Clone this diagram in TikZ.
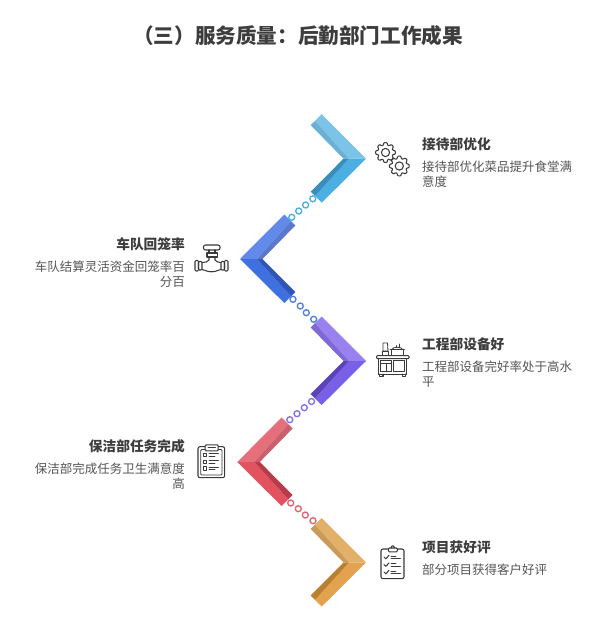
\documentclass[tikz,border=0pt]{standalone}
\usepackage{fontspec}
\setmainfont{Noto Sans CJK SC}
\definecolor{txtdark}{HTML}{3D3D3D}
\definecolor{txtbody}{HTML}{555555}
\definecolor{icon}{HTML}{3A3A3A}
\tikzset{
  ttl/.style={inner sep=0pt,text=txtdark,font=\fontsize{20.6}{24}\selectfont\bfseries},
  headl/.style={inner sep=0pt,anchor=west,text=txtdark,font=\fontsize{13.7}{16}\selectfont\bfseries},
  headr/.style={inner sep=0pt,anchor=east,text=txtdark,font=\fontsize{13.7}{16}\selectfont\bfseries},
  bodyl/.style={inner sep=0pt,anchor=north west,align=left,text=txtbody,font=\fontsize{12.5}{15.5}\selectfont},
  bodyr/.style={inner sep=0pt,anchor=north east,align=right,text=txtbody,font=\fontsize{12.5}{15.5}\selectfont},
  ring/.style={circle,draw=#1,fill=white,line width=1.35pt,inner sep=0pt,minimum size=6pt},
  ic/.style={draw=icon,line width=1.05pt,line join=round,line cap=round},
  icthin/.style={draw=icon,line width=0.85pt,line join=round,line cap=round}
}
% tip x, centre y, direction (1 right-pointing, -1 left-pointing), top, bottom, upper band, lower band
\newcommand{\chevshape}[7]{%
  \begin{scope}[shift={(#1,#2)},xscale=#3]
    \fill[#4] (0,0) -- (-44.3,-44.5) -- (-51,-37.8) -- (-17,0) -- cycle;
    \fill[#6] (-17,0) -- (-51,-37.8) -- (-55.3,-33.5) -- (-22.5,0) -- cycle;
    \fill[#5] (0,0) -- (-44.3,44) -- (-51,37.3) -- (-17,0) -- cycle;
    \fill[#7] (-17,0) -- (-51,37.3) -- (-55.3,33) -- (-22.5,0) -- cycle;
  \end{scope}}
\newcommand{\gearshape}[2]{%
  \begin{scope}[shift={(#1,#2)}]
    \draw[ic,rounded corners=0.9pt] (-14:7.6) \foreach \a in {0,45,...,315}{ -- (\a-14:7.6) -- (\a-11:10) -- (\a+11:10) -- (\a+14:7.6)} -- cycle;
    \draw[ic] (0,0) circle[radius=4.1];
  \end{scope}}
\definecolor{a1}{HTML}{7CC3E8}\definecolor{a2}{HTML}{4BAFE1}\definecolor{a3}{HTML}{6BB1D6}\definecolor{a4}{HTML}{3A8EBE}
\definecolor{b1}{HTML}{6389EA}\definecolor{b2}{HTML}{3F70E0}\definecolor{b3}{HTML}{5A78CC}\definecolor{b4}{HTML}{2F55B8}
\definecolor{c1}{HTML}{9A82EE}\definecolor{c2}{HTML}{7A60E6}\definecolor{c3}{HTML}{8068D8}\definecolor{c4}{HTML}{5A44B8}
\definecolor{d1}{HTML}{E5707C}\definecolor{d2}{HTML}{E2525F}\definecolor{d3}{HTML}{C9606C}\definecolor{d4}{HTML}{B83C48}
\definecolor{e1}{HTML}{E3B06A}\definecolor{e2}{HTML}{E2A24E}\definecolor{e3}{HTML}{C99A58}\definecolor{e4}{HTML}{B98032}
\begin{document}
\begin{tikzpicture}[x=1pt,y=-1pt]
\useasboundingbox[fill=white] (0,0) rectangle (607,637);

\node[ttl] (title) at (298,36) {（三）服务质量：后勤部门工作成果};

% chevrons
\chevshape{366}{158.7}{1}{a1}{a2}{a3}{a4}
\chevshape{240}{259}{-1}{b1}{b2}{b3}{b4}
\chevshape{366}{361}{1}{c1}{c2}{c3}{c4}
\chevshape{237.3}{462}{-1}{d1}{d2}{d3}{d4}
\chevshape{366}{562.5}{1}{e1}{e2}{e3}{e4}

% dots
\node[ring=a2] (a) at (312.8,198.8) {};
\node[ring=a2] (b) at (305.6,205) {};
\node[ring=a2] (c) at (298.7,211) {};
\node[ring=a2] (d) at (291.7,217.3) {};
\node[ring=b2!90!white] (e) at (293,299.3) {};
\node[ring=b2!90!white] (f) at (300.3,306) {};
\node[ring=b2!90!white] (g) at (306.3,312.7) {};
\node[ring=b2!90!white] (h) at (313.7,319.3) {};
\node[ring=c2!90!white] (i) at (311.5,401.5) {};
\node[ring=c2!90!white] (j) at (304.3,407.7) {};
\node[ring=c2!90!white] (k) at (297,413.7) {};
\node[ring=c2!90!white] (l) at (289.8,419.7) {};
\node[ring=d2!90!white] (m) at (290.7,503) {};
\node[ring=d2!90!white] (n) at (298.3,508.7) {};
\node[ring=d2!90!white] (o) at (305.3,515) {};
\node[ring=d2!90!white] (p) at (313,520.7) {};

% texts
\node[headl] (h1) at (422,144) {接待部优化};
\node[bodyl] (t1) at (422,160.5) {接待部优化菜品提升食堂满\\意度};
\node[headr] (h2) at (185,244.5) {车队回笼率};
\node[bodyr] (t2) at (185,260.5) {车队结算灵活资金回笼率百\\分百};
\node[headl] (h3) at (422,344) {工程部设备好};
\node[bodyl] (t3) at (422,360.5) {工程部设备完好率处于高水\\平};
\node[headr] (h4) at (185,446) {保洁部任务完成};
\node[bodyr] (t4) at (185,462.5) {保洁部完成任务卫生满意度\\高};
\node[headl] (h5) at (422,547) {项目获好评};
\node[bodyl] (t5) at (422,564) {部分项目获得客户好评};

% gears
\gearshape{385.5}{152.5}
\gearshape{399.3}{166}

% valve
\draw[ic,rounded corners=2pt] (203.5,245) rectangle (220,250);
\draw[ic] (209,250) -- (209,253) (215,250) -- (215,253);
\draw[ic] (207,253) rectangle (217.3,257);
\draw[ic] (209,257) -- (209,260) .. controls (208,262) and (205,262.5) .. (202,262.5);
\draw[ic] (215,257) -- (215,260) .. controls (216,262) and (219,262.5) .. (221,262.5);
\draw[ic,rounded corners=1pt] (195,260.5) rectangle (198.5,271);
\draw[ic,rounded corners=1pt] (198.5,261.5) rectangle (202,270);
\draw[ic,rounded corners=1pt] (221,261.5) rectangle (224.5,270);
\draw[ic,rounded corners=1pt] (224.5,260.5) rectangle (228,271);
\draw[ic] (202,269.5) .. controls (205,269.5) and (206,271.8) .. (211.5,271.8) .. controls (217,271.8) and (218,269.5) .. (221,269.5);

% kitchen station
\draw[ic,rounded corners=0.8pt] (376.7,355.7) rectangle (409,358.7);
\draw[ic] (378.8,358.7) rectangle (406.7,374.2);
\draw[icthin] (380.3,360.8) rectangle (391.6,371.8);
\draw[icthin] (393.3,360.8) rectangle (404.6,371.8);
\draw[icthin] (380.3,363.5) -- (391.6,363.5) (386,363.5) -- (386,371.8);
\draw[ic] (379.8,374.2) -- (379.8,376.7) -- (383,376.7) -- (383,374.2);
\draw[ic] (402.5,374.2) -- (402.5,376.7) -- (405.7,376.7) -- (405.7,374.2);
\draw[icthin] (383,343) -- (387.5,343) -- (388,351) -- (383,351) -- cycle;
\draw[icthin] (382.5,351) rectangle (388.5,355.7);
\draw[icthin] (391,349.5) rectangle (403.5,355.7);
\draw[icthin] (390,349.5) -- (404.5,349.5);
\draw[icthin] (392,349.5) .. controls (392.5,346.5) and (402,346.5) .. (402.5,349.5);
\draw[icthin] (396,347) -- (396,345.5) (399.8,347) -- (399.8,344);

% clipboard squares
\draw[ic,rounded corners=2pt] (198,446.7) rectangle (224.7,477.7);
\draw[icthin,rounded corners=1pt] (200.7,449.5) rectangle (222,475);
\draw[ic,fill=white,rounded corners=1pt] (205.2,444.8) rectangle (218.2,450.8);
\draw[icthin] (208,447) -- (215.5,447);
\foreach \r in {453.3,460,466.7}{
  \draw[icthin] (203.3,\r) rectangle ++(3.4,3.4);
  \draw[icthin] (209,\r+0.6) -- (218.5,\r+0.6);
  \draw[icthin] (209,\r+3) -- (215,\r+3);
}

% clipboard checks
\draw[ic,rounded corners=2pt] (381,549) rectangle (404,578.7);
\draw[ic,fill=white,rounded corners=1pt] (388.3,548) rectangle (397.3,551.8);
\draw[ic] (391.3,548) .. controls (391.3,545) and (394.3,545) .. (394.3,548);
\foreach \r in {557,564.5,572}{
  \draw[ic] (384,\r) -- (385.8,\r+1.8) -- (389,\r-1.6);
  \draw[icthin] (391,\r-1) -- (396,\r-1);
  \draw[icthin] (391,\r+1.6) -- (400.5,\r+1.6);
}
\end{tikzpicture}
\end{document}
